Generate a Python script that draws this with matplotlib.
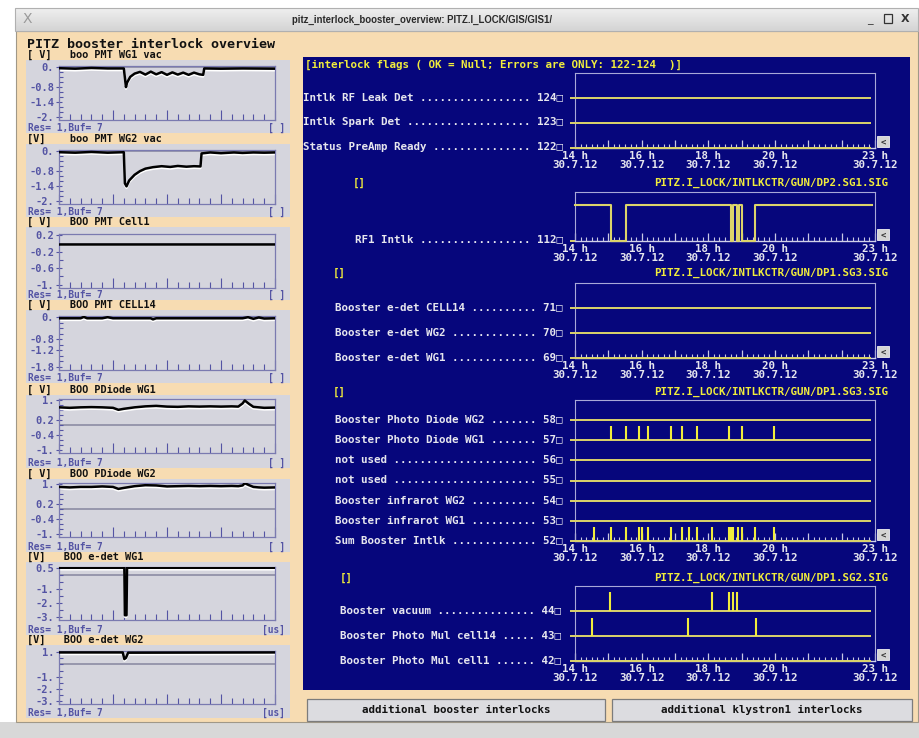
import numpy as np
import matplotlib
matplotlib.use('Agg')
import matplotlib.pyplot as plt
from matplotlib.patches import Rectangle
from matplotlib.colors import LinearSegmentedColormap
from matplotlib.ticker import MultipleLocator
from matplotlib.transforms import blended_transform_factory

# ------------------------------------------------------------------ data
window_title = 'pitz_interlock_booster_overview: PITZ.I_LOCK/GIS/GIS1/'
panel_title = 'PITZ booster interlock overview'

left_titles = ['boo PMT WG1 vac', 'boo PMT WG2 vac', 'BOO PMT Cell1', 'BOO PMT CELL14',
               'BOO PDiode WG1', 'BOO PDiode WG2', 'BOO e-det WG1', 'BOO e-det WG2']
left_units = ['[ V]   ', '[V]    ', '[ V]   ', '[ V]   ', '[ V]   ', '[ V]   ', '[V]   ', '[V]   ']
left_xunits = ['[ ]', '[ ]', '[ ]', '[ ]', '[ ]', '[ ]', '[us]', '[us]']
left_status = 'Res= 1,Buf= 7'
left_yticks = [[0, -0.8, -1.4, -2.0], [0, -0.8, -1.4, -2.0], [0.2, -0.2, -0.6, -1.0],
               [0, -0.8, -1.2, -1.8], [1.0, 0.2, -0.4, -1.0], [1.0, 0.2, -0.4, -1.0],
               [0.5, -1.0, -2.0, -3.0], [1.0, -1.0, -2.0, -3.0]]
left_yticklabels = [['0.', '-0.8', '-1.4', '-2.'], ['0.', '-0.8', '-1.4', '-2.'],
                    ['0.2', '-0.2', '-0.6', '-1.'], ['0.', '-0.8', '-1.2', '-1.8'],
                    ['1.', '0.2', '-0.4', '-1.'], ['1.', '0.2', '-0.4', '-1.'],
                    ['0.5', '-1.', '-2.', '-3.'], ['1.', '-1.', '-2.', '-3.']]

wg1_vac_x = [0, 1.5, 3, 4.5, 6.0, 6.2, 6.3, 6.6, 7.0, 7.5, 8.0, 8.5, 9.0, 9.5, 10.0, 10.5,
             11.0, 11.5, 12.0, 12.5, 13.0, 13.35, 13.45, 15, 17, 20]
wg1_vac_y = [-0.03, -0.05, -0.02, -0.04, -0.04, -0.80, -0.62, -0.38, -0.25, -0.18, -0.29,
             -0.17, -0.28, -0.19, -0.30, -0.20, -0.29, -0.21, -0.30, -0.21, -0.28, -0.30,
             -0.04, -0.05, -0.04, -0.05]
wg2_vac_x = [0, 1.5, 3, 4.5, 6.0, 6.1, 6.25, 6.5, 7.0, 7.5, 8.0, 8.7, 9.5, 10.3, 11.0, 11.8,
             12.5, 13.1, 13.2, 14, 15, 16.2, 17, 18, 19, 20]
wg2_vac_y = [-0.03, -0.05, -0.02, -0.05, -0.03, -1.30, -1.42, -1.18, -0.95, -0.80, -0.70,
             -0.64, -0.60, -0.63, -0.59, -0.62, -0.60, -0.61, -0.08, -0.04, -0.07, -0.04,
             -0.06, -0.04, -0.05, -0.04]
cell1_x = [0, 20]
cell1_y = [0.0, 0.0]
cell14_x = [0, 2.0, 2.3, 2.6, 4.0, 4.5, 5.0, 8.5, 8.7, 9.0, 17.0, 17.5, 18.0, 18.5, 19.0, 20]
cell14_y = [-0.03, -0.03, 0.02, -0.03, -0.03, 0.01, -0.03, -0.03, -0.07, -0.03, -0.03, 0.01,
            -0.05, 0.0, -0.04, -0.03]
pdiode_x = [0, 1, 2, 3, 4, 5, 5.5, 6, 7, 8, 9, 10, 11, 12, 13, 14, 15, 16, 16.6, 17.0, 17.2,
            17.6, 18.0, 18.5, 19, 20]
pdiode_wg1_y = [0.72, 0.70, 0.72, 0.73, 0.72, 0.70, 0.62, 0.66, 0.72, 0.76, 0.78, 0.75, 0.74,
                0.76, 0.75, 0.76, 0.75, 0.76, 0.75, 0.88, 1.00, 0.86, 0.74, 0.72, 0.70, 0.71]
pdiode_wg2_y = [0.90, 0.88, 0.90, 0.90, 0.92, 0.90, 0.82, 0.86, 0.93, 0.97, 0.96, 0.92, 0.93,
                0.94, 0.93, 0.94, 0.93, 0.94, 0.93, 0.96, 1.05, 0.97, 0.90, 0.88, 0.87, 0.88]
edet_wg1_x = [0, 6.05, 6.1, 6.25, 6.3, 20]
edet_wg1_y = [0.55, 0.55, -2.9, -2.9, 0.55, 0.55]
edet_wg2_x = [0, 5.9, 6.05, 6.2, 6.4, 20]
edet_wg2_y = [1.0, 1.0, 0.45, 0.55, 0.98, 1.0]

left_series = [(wg1_vac_x, wg1_vac_y), (wg2_vac_x, wg2_vac_y), (cell1_x, cell1_y),
               (cell14_x, cell14_y), (pdiode_x, pdiode_wg1_y), (pdiode_x, pdiode_wg2_y),
               (edet_wg1_x, edet_wg1_y), (edet_wg2_x, edet_wg2_y)]

header_text = '[interlock flags ( OK = Null; Errors are ONLY: 122-124  )]'
g1_names = ['Intlk RF Leak Det', 'Intlk Spark Det', 'Status PreAmp Ready']
g1_nums = ['124', '123', '122']
g2_names = ['RF1 Intlk']
g2_nums = ['112']
rf1_t = [14.0, 15.08, 15.53, 18.68, 18.755, 18.86, 18.935, 19.01, 19.40, 22.9]
rf1_state = [1, 0, 1, 0, 1, 0, 1, 0, 1, 1]
g3_names = ['Booster e-det CELL14', 'Booster e-det WG2', 'Booster e-det WG1']
g3_nums = ['71', '70', '69']
g4_names = ['Booster Photo Diode WG2', 'Booster Photo Diode WG1', 'not used', 'not used',
            'Booster infrarot WG2', 'Booster infrarot WG1', 'Sum Booster Intlk']
g4_nums = ['58', '57', '56', '55', '54', '53', '52']
pd_wg1_events = [15.08, 15.53, 15.93, 16.18, 16.87, 17.22, 17.66, 18.62, 19.0, 19.98]
sum_events = [14.57, 15.08, 15.53, 15.93, 16.0, 16.18, 16.87, 17.22, 17.41, 17.66, 18.12,
              18.62, 18.68, 18.75, 18.88, 19.0, 19.4, 19.98]
g5_names = ['Booster vacuum', 'Booster Photo Mul cell14', 'Booster Photo Mul cell1']
g5_nums = ['44', '43', '42']
vacuum_events = [15.05, 18.1, 18.62, 18.74, 18.86]
pm_cell14_events = [14.52, 17.4, 19.42]
hour_labels = [14, 16, 18, 20, 23]
date_label = '30.7.12'
sig_names = ['PITZ.I_LOCK/INTLKCTR/GUN/DP2.SG1.SIG', 'PITZ.I_LOCK/INTLKCTR/GUN/DP1.SG3.SIG',
             'PITZ.I_LOCK/INTLKCTR/GUN/DP1.SG3.SIG', 'PITZ.I_LOCK/INTLKCTR/GUN/DP1.SG2.SIG']
button_texts = ['additional booster interlocks', 'additional klystron1 interlocks']

# ------------------------------------------------------------------ style
W, H = 920, 738
MONO = 'DejaVu Sans Mono'
FS = 7.8
FS_S = 6.9
BEIGE = '#f7dcb2'
GRAYBOX = '#d5d5dd'
NAVY = '#06067c'
TICKBLUE = '#5454a4'
YEL = '#f0ec3c'
LINEYEL = '#dcd46a'
LIGHT = '#e6e6ee'

fig = plt.figure(figsize=(W / 100, H / 100), dpi=100, facecolor='white')
bg = fig.add_axes([0, 0, 1, 1])
bg.set_xlim(0, W)
bg.set_ylim(H, 0)
bg.axis('off')


def rect(x0, y0, x1, y1, fc, ec='none', lw=0.0, z=1):
    bg.add_patch(Rectangle((x0, y0), x1 - x0, y1 - y0, facecolor=fc, edgecolor=ec,
                           linewidth=lw, zorder=z))


def px_axes(x0, y0, x1, y1):
    return fig.add_axes([x0 / W, 1 - y1 / H, (x1 - x0) / W, (y1 - y0) / H])


# window chrome
rect(0, 722, W, H, '#d8d8d8')
rect(16, 31, 918, 722, BEIGE, ec='#a09888', lw=0.8)
cm = LinearSegmentedColormap.from_list('tb', ['#efefef', '#d4d4d4'])
bg.imshow(np.linspace(0, 1, 24).reshape(-1, 1), extent=(15, 918, 31, 8), aspect='auto',
          cmap=cm, zorder=1)
rect(15, 8, 918, 31, 'none', ec='#b0b0b0', lw=0.8, z=2)
bg.set_xlim(0, W)
bg.set_ylim(H, 0)
bg.text(27, 19, 'X', fontsize=10, color='#9a9a9a', ha='center', va='center', zorder=3,
        family='DejaVu Sans')
bg.text(292, 19.5, window_title, fontsize=6.9, color='#2a2a2a', ha='left', va='center',
        family=['Liberation Sans Narrow', 'Liberation Sans'], weight='bold', zorder=3)
bg.text(870, 20, '_', fontsize=8, color='#333', ha='center', va='center', zorder=3)
rect(884, 14, 892, 23, 'none', ec='#333', lw=0.9, z=3)
bg.text(905, 19.5, 'X', fontsize=8, color='#333', ha='center', va='center', zorder=3,
        weight='bold')
bg.text(27, 44, panel_title, fontsize=9.6, weight='bold', family=MONO, color='#111',
        ha='left', va='center', zorder=3)

# ------------------------------------------------------------------ left column
label_ys = [55, 139, 222, 305, 390, 474, 557, 640]
ax_boxes = [(66, 120), (150, 204), (234, 288), (316, 370), (399, 453), (483, 537),
            (567, 620), (651, 704)]
for i in range(8):
    ly = label_ys[i]
    rect(26, ly + 5, 290, ly + 78, GRAYBOX, z=1)
    bg.text(27, ly, left_units[i] + left_titles[i], fontsize=7.4, family=MONO,
            weight='bold', color='#111', ha='left', va='center', zorder=3)
    bg.text(28, ly + 73, left_status, fontsize=FS_S, family=MONO, weight='bold',
            color=TICKBLUE, ha='left', va='center', zorder=3)
    bg.text(285, ly + 73, left_xunits[i], fontsize=FS_S, family=MONO, weight='bold',
            color=TICKBLUE, ha='right', va='center', zorder=3)

    top, bot = ax_boxes[i]
    ax = px_axes(59, top, 275, bot)
    ax.patch.set_alpha(0)
    ticks = left_yticks[i]
    span = ticks[0] - ticks[-1]
    ax.set_ylim(ticks[-1] - 0.07 * span, ticks[0] + 0.03 * span)
    ax.set_xlim(0, 20)
    ax.set_yticks(ticks, labels=left_yticklabels[i])
    ax.yaxis.set_minor_locator(MultipleLocator(0.2 if span < 3 else 0.5))
    ax.set_xticks([0, 5, 10, 15, 20], labels=[''] * 5)
    ax.xaxis.set_minor_locator(MultipleLocator(1))
    ax.tick_params(axis='y', which='major', direction='inout', length=5, width=0.8,
                   color=TICKBLUE, labelcolor=TICKBLUE, labelsize=7.5, pad=1)
    ax.tick_params(axis='y', which='minor', direction='in', length=3, width=0.8,
                   color=TICKBLUE)
    ax.tick_params(axis='x', which='major', direction='in', length=7, width=0.8,
                   color=TICKBLUE)
    ax.tick_params(axis='x', which='minor', direction='in', length=4, width=0.8,
                   color=TICKBLUE)
    for lab in ax.get_yticklabels():
        lab.set_family(MONO)
        lab.set_weight('bold')
    for s in ax.spines.values():
        s.set_color('#7a7ab0')
        s.set_linewidth(0.9)
    ax.axhline(0, color='#8c8ca4', lw=1.2, zorder=1)
    xs, ys = left_series[i]
    off = 0.035 * span
    ax.plot(xs, [v - off for v in ys], color='white', lw=1.6, zorder=2)
    ax.plot(xs, ys, color='black', lw=1.8, zorder=3)

# ------------------------------------------------------------------ right panel
rect(303, 57, 910, 690, NAVY, z=1)
bg.text(305, 65, header_text, fontsize=FS, family=MONO, weight='bold', color=YEL,
        ha='left', va='center', zorder=3)


def chan_label(name, num, total):
    ndots = total - len(name) - len(num) - 3
    return name + ' ' + '.' * ndots + ' ' + num + '\u25a1'


def make_group(top, bot, nrows):
    ax = px_axes(575, top, 875, bot)
    ax.patch.set_alpha(0)
    ax.set_xlim(14, 23)
    ax.set_ylim(0, nrows)
    ax.set_yticks([])
    hours = list(range(14, 24))
    ax.set_xticks(hours, labels=[(f'{h} h\n{date_label}' if h in hour_labels else '')
                                 for h in hours])
    ax.xaxis.set_minor_locator(MultipleLocator(1 / 6))
    ax.tick_params(axis='x', which='major', direction='in', length=6, width=0.9,
                   color='#c8c8e4', labelcolor=LIGHT, labelsize=FS, pad=2)
    ax.tick_params(axis='x', which='minor', direction='in', length=3, width=0.8,
                   color='#c8c8e4')
    for lab in ax.get_xticklabels():
        lab.set_family(MONO)
        lab.set_weight('bold')
        lab.set_linespacing(0.85)
    for k in ('top', 'left', 'right'):
        ax.spines[k].set_color('#a8a8d8')
        ax.spines[k].set_linewidth(0.8)
    ax.spines['bottom'].set_color('#d0d0e8')
    ax.spines['bottom'].set_linewidth(1.0)
    # scroll button
    rect(877, bot - 12, 889, bot - 1, '#d4d4d4', ec='#f0f0f0', lw=0.6, z=3)
    bg.text(883, bot - 6.5, '<', fontsize=6.5, family=MONO, weight='bold', color='#333',
            ha='center', va='center', zorder=4)
    return ax


def channel_rows(ax, names, nums, x_right, total, with_lines=True):
    n = len(names)
    tr = blended_transform_factory(bg.transData, ax.transData)
    rows = list(range(n - 1, -1, -1))
    for r, nm, nu in zip(rows, names, nums):
        ax.text(x_right, r + 0.04, chan_label(nm, nu, total), transform=tr, fontsize=FS,
                family=MONO, weight='bold', color=LIGHT, ha='right', va='center',
                clip_on=False)
    if with_lines:
        ax.hlines(rows, 13.85, 22.87, color=LINEYEL, lw=1.4, clip_on=False, zorder=3)
    return rows


# group 1
g1 = make_group(73, 148, 3)
channel_rows(g1, g1_names, g1_nums, 563, 40)
bg.text(353, 183, '[]', fontsize=FS, family=MONO, weight='bold', color=YEL, ha='left',
        va='center', zorder=3)
bg.text(888, 183, sig_names[0], fontsize=FS, family=MONO, weight='bold', color=YEL,
        ha='right', va='center', zorder=3)

# group 2
g2 = make_group(192, 241, 1)
g2.set_ylim(0, 1.36)
channel_rows(g2, g2_names, g2_nums, 563, 32, with_lines=False)
g2.hlines([0], 13.85, 14.0, color=LINEYEL, lw=1.4, clip_on=False)
g2.plot(rf1_t, rf1_state, drawstyle='steps-post', color=LINEYEL, lw=1.5, clip_on=False,
        zorder=3)
bg.text(333, 273, '[]', fontsize=FS, family=MONO, weight='bold', color=YEL, ha='left',
        va='center', zorder=3)
bg.text(888, 273, sig_names[1], fontsize=FS, family=MONO, weight='bold', color=YEL,
        ha='right', va='center', zorder=3)

# group 3
g3 = make_group(283, 358, 3)
channel_rows(g3, g3_names, g3_nums, 563, 35)
bg.text(333, 392, '[]', fontsize=FS, family=MONO, weight='bold', color=YEL, ha='left',
        va='center', zorder=3)
bg.text(888, 392, sig_names[2], fontsize=FS, family=MONO, weight='bold', color=YEL,
        ha='right', va='center', zorder=3)

# group 4
g4 = make_group(400, 541, 7)
rows4 = channel_rows(g4, g4_names, g4_nums, 563, 35)
g4.vlines(pd_wg1_events, rows4[1], rows4[1] + 0.7, color=YEL, lw=1.5, zorder=4)
g4.vlines(sum_events, rows4[6], rows4[6] + 0.7, color=YEL, lw=1.5, zorder=4)
bg.text(340, 578, '[]', fontsize=FS, family=MONO, weight='bold', color=YEL, ha='left',
        va='center', zorder=3)
bg.text(888, 578, sig_names[3], fontsize=FS, family=MONO, weight='bold', color=YEL,
        ha='right', va='center', zorder=3)

# group 5
g5 = make_group(586, 661, 3)
rows5 = channel_rows(g5, g5_names, g5_nums, 561, 34)
g5.vlines(vacuum_events, rows5[0], rows5[0] + 0.76, color=YEL, lw=1.5, zorder=4)
g5.vlines(pm_cell14_events, rows5[1], rows5[1] + 0.72, color=YEL, lw=1.5, zorder=4)

# buttons
for (x0, x1), t in zip([(307, 605), (612, 912)], button_texts):
    rect(x0, 699, x1, 721, '#dcdce0', ec='#7c7c7c', lw=0.9, z=2)
    bg.text((x0 + x1) / 2, 710, t, fontsize=FS, family=MONO, weight='bold', color='#111',
            ha='center', va='center', zorder=3)

fig.savefig('out.png', dpi=100, facecolor=fig.get_facecolor())
